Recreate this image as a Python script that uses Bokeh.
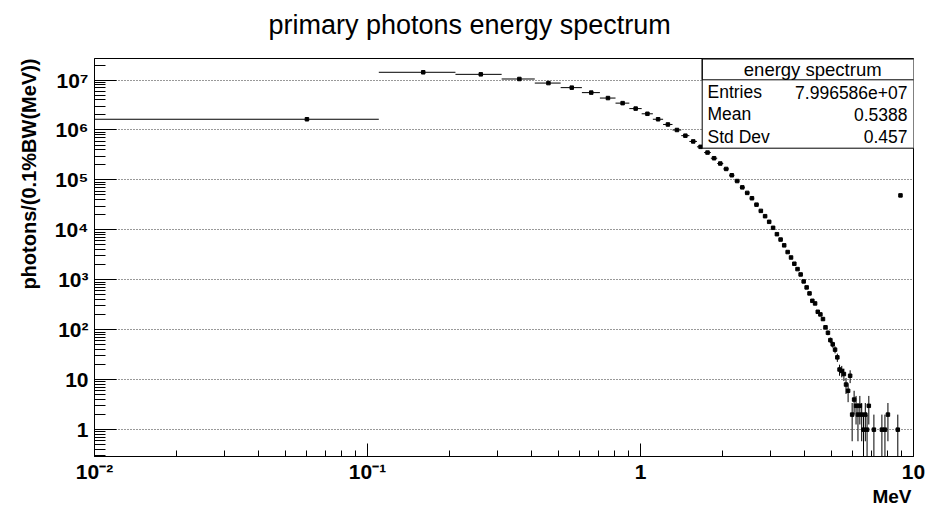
import numpy as np
from bokeh.plotting import figure
from bokeh.models import (Range1d, FixedTicker, CustomJSTickFormatter, Label,
                          BoxAnnotation, Title)
from bokeh.embed import file_html
from bokeh.resources import INLINE

# ---------------- data ----------------
bin_width = 0.1
energy = [0.06, 0.16, 0.26, 0.36, 0.46, 0.56, 0.66, 0.76, 0.86, 0.96,
          1.06, 1.16, 1.26, 1.36, 1.46, 1.56, 1.66, 1.76, 1.86, 1.96,
          2.06, 2.16, 2.26, 2.36, 2.46, 2.56, 2.66, 2.76, 2.86, 2.96,
          3.06, 3.16, 3.26, 3.36, 3.46, 3.56, 3.66, 3.76, 3.86, 3.96,
          4.06, 4.16, 4.26, 4.36, 4.46, 4.56, 4.66, 4.76, 4.86, 4.96,
          5.06, 5.16, 5.26, 5.36, 5.46, 5.56, 5.66, 5.76, 5.86, 5.96,
          6.06, 6.16, 6.26, 6.36, 6.46, 6.56, 6.66, 6.76, 6.86,
          7.16, 7.66, 7.86, 8.06, 8.76, 8.96]
counts = [1.64e6, 1.43e7, 1.30e7, 1.05e7, 8.7e6, 7.05e6, 5.6e6, 4.36e6, 3.45e6, 2.68e6,
          2.11e6, 1.64e6, 1.29e6, 1.0e6, 7.7e5, 5.9e5, 4.6e5, 3.53e5, 2.72e5, 2.13e5,
          1.66e5, 1.24e5, 9.5e4, 7.1e4, 5.5e4, 4.3e4, 3.2e4, 2.4e4, 1.88e4, 1.45e4,
          1.1e4, 8.2e3, 6.4e3, 4.9e3, 3.6e3, 2.8e3, 2.1e3, 1.64e3, 1.28e3, 930,
          705, 535, 380, 337, 229, 203, 164, 112, 87, 62,
          51, 40, 28, 16, 15, 13, 8, 6, 12, 2,
          4, 3, 2, 3, 2, 1, 2, 1, 3,
          1, 1, 1, 2, 1, 4.9e4]

title_text = "primary photons energy spectrum"
y_title = "photons/(0.1%BW(MeV))"
x_title = "MeV"
stats_name = "energy spectrum"
stats_labels = ["Entries", "Mean", "Std Dev"]
stats_values = ["7.996586e+07", "0.5388", "0.457"]

x_decades = [-2, -1, 0, 1]
y_decades = [0, 1, 2, 3, 4, 5, 6, 7]
x_lo, x_hi = 0.01, 10.0
y_lo, y_hi = 0.29, 2.7e7

W, H = 929, 508
FL, FR, FT, FB = 94, 913, 58, 457
FONT = "Liberation Sans"

p = figure(width=W, height=H, x_axis_type="log", y_axis_type="log",
           x_range=Range1d(x_lo, x_hi), y_range=Range1d(y_lo, y_hi),
           title=None,
           output_backend="svg", toolbar_location=None,
           min_border_left=FL, min_border_right=W - FR,
           min_border_top=FT, min_border_bottom=H - FB)
p.background_fill_color = "white"
p.border_fill_color = "white"
p.outline_line_color = "black"
p.outline_line_width = 1

# main title, pushed up by an invisible spacer panel next to the frame
spacer = Title(text=" ", text_font_size="2px", standoff=13, text_color="white")
main_title = Title(text=title_text, align="left", offset=174, vertical_align="top",
                   standoff=0, text_font=FONT, text_font_style="normal",
                   text_font_size="27px", text_color="black")
p.add_layout(spacer, "above")
p.add_layout(main_title, "above")

# ticks
xt_major = [10.0 ** k for k in x_decades]
xt_minor = [m * 10.0 ** k for k in x_decades[:-1] for m in range(2, 10)]
yt_major = [10.0 ** k for k in y_decades]
yt_minor = [m * 10.0 ** k for k in [-1] + y_decades for m in range(2, 10)
            if y_lo <= m * 10.0 ** k <= y_hi]
xticker = FixedTicker(ticks=xt_major, minor_ticks=xt_minor)
yticker = FixedTicker(ticks=yt_major, minor_ticks=yt_minor)

fmt_code = """
const sup = {"-": "\u207b", "0": "\u2070", "1": "\u00b9", "2": "\u00b2", "3": "\u00b3",
             "4": "\u2074", "5": "\u2075", "6": "\u2076", "7": "\u2077", "8": "\u2078", "9": "\u2079"};
const e = Math.round(Math.log10(tick));
if (e === 0) { return "1"; }
if (e === 1) { return "10"; }
return "10" + String(e).split("").map(c => sup[c]).join("");
"""
formatter = CustomJSTickFormatter(code=fmt_code)

for ax in (p.xaxis[0], p.yaxis[0]):
    ax.formatter = formatter
    ax.major_label_text_font = FONT
    ax.major_label_text_font_style = "bold"
    ax.major_label_text_font_size = "21px"
    ax.major_label_text_color = "black"
    ax.axis_line_color = "black"
    ax.axis_line_width = 1
    ax.major_tick_line_color = "black"
    ax.minor_tick_line_color = "black"
    ax.major_tick_out = 0
    ax.minor_tick_out = 0

p.xaxis[0].ticker = xticker
p.xaxis[0].major_tick_in = 13
p.xaxis[0].minor_tick_in = 6
p.xaxis[0].major_label_standoff = 3

p.yaxis[0].ticker = yticker
p.yaxis[0].major_tick_in = 22
p.yaxis[0].minor_tick_in = 11
p.yaxis[0].major_label_standoff = 6

p.xgrid.visible = False
p.ygrid[0].ticker = yticker
p.ygrid.grid_line_color = "#333333"
p.ygrid.grid_line_dash = "1 2"
p.ygrid.grid_line_width = 1

# axis titles as side-panel titles (ROOT-style: aligned to the axis end)
p.add_layout(Title(text=y_title, align="right", offset=0, standoff=20,
                   vertical_align="top",
                   text_font=FONT, text_font_style="bold", text_font_size="20px",
                   text_color="black"), "left")
p.add_layout(Title(text=x_title, align="right", offset=2, standoff=0,
                   vertical_align="top",
                   text_font=FONT, text_font_style="bold", text_font_size="19px",
                   text_color="black"), "below")

# ---------------- data marks ----------------
e_arr = np.array(energy)
c_arr = np.array(counts, dtype=float)
err = np.sqrt(c_arr)
lo = np.where(c_arr - err > 0, c_arr - err, 1e-3)
hi = c_arr + err

p.segment(x0=e_arr, y0=lo, x1=e_arr, y1=hi, line_color="black", line_width=1)
p.segment(x0=e_arr - bin_width / 2, y0=c_arr, x1=e_arr + bin_width / 2, y1=c_arr,
          line_color="black", line_width=1)
p.scatter(e_arr, c_arr, marker="square", size=3.5, color="black")

# ---------------- stats box (canvas pixels) ----------------
bl, br, bt, bh, bb = 701.7, 922.7, 58.3, 79.3, 147.7
p.add_layout(BoxAnnotation(left=bl, right=br, top=bt, bottom=bb,
                           left_units="canvas", right_units="canvas",
                           top_units="canvas", bottom_units="canvas",
                           fill_color="white", fill_alpha=1.0,
                           line_color="black", line_width=1, line_alpha=1.0))
p.add_layout(BoxAnnotation(left=bl, right=br, top=bt, bottom=bh,
                           left_units="canvas", right_units="canvas",
                           top_units="canvas", bottom_units="canvas",
                           fill_alpha=0.0, line_color="black", line_width=1, line_alpha=1.0))
p.add_layout(Label(x=(bl + br) / 2, y=68.5, x_units="canvas", y_units="canvas",
                   text=stats_name,
                   text_align="center", text_baseline="middle",
                   text_font=FONT, text_font_size="18.5px", text_color="black"))
row_y = [91.5, 113.5, 136]
for lab, val, ry in zip(stats_labels, stats_values, row_y):
    p.add_layout(Label(x=707, y=ry, x_units="canvas", y_units="canvas", text=lab,
                       text_align="left", text_baseline="middle",
                       text_font=FONT, text_font_size="17.5px", text_color="black"))
    p.add_layout(Label(x=907, y=ry, x_units="canvas", y_units="canvas", text=val,
                       text_align="right", text_baseline="middle",
                       text_font=FONT, text_font_size="17.5px", text_color="black"))

open("out.html", "w").write(file_html(p, INLINE))
